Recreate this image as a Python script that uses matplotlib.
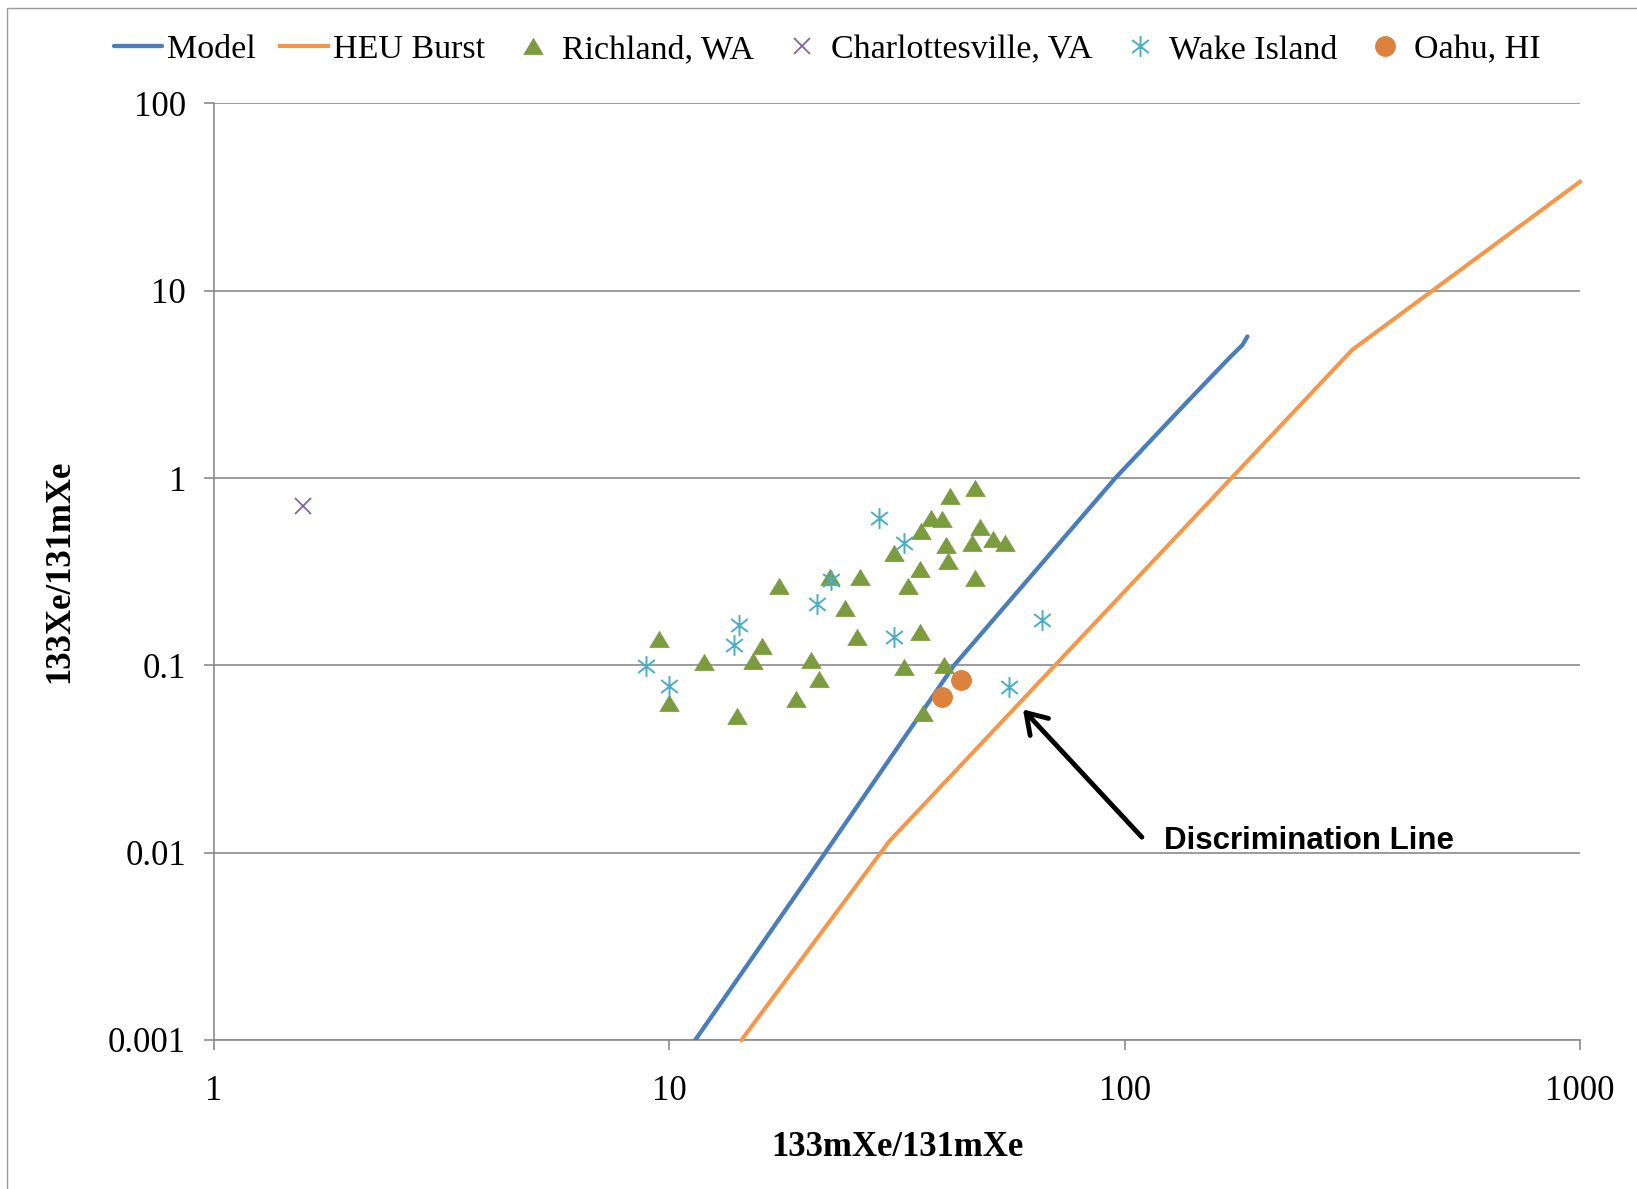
import matplotlib
matplotlib.use("Agg")
import matplotlib.pyplot as plt
from matplotlib.path import Path
from matplotlib.patches import Rectangle

# ---------------- data ----------------
model_x = [11.4, 22.0, 42.2, 95.4, 136.3, 170.7, 181.4, 186.0]
model_y = [0.001, 0.01, 0.1, 1.0, 2.51, 4.44, 5.13, 5.70]

heu_x = [14.4, 30.4, 315.8, 1000.0]
heu_y = [0.001, 0.0115, 4.83, 38.2]

richland_x = [47.0, 41.4, 37.6, 39.7, 35.7, 48.0, 31.2, 40.6, 46.2, 51.4, 54.7,
              41.0, 35.6, 47.0, 33.4, 22.5, 26.2, 17.4, 24.3, 25.8, 35.6, 9.5,
              16.0, 11.9, 15.3, 20.5, 32.7, 40.2, 21.3, 19.0, 10.0, 14.1, 36.1]
richland_y = [0.881, 0.802, 0.609, 0.602, 0.523, 0.549, 0.399, 0.439, 0.452, 0.471, 0.448,
              0.360, 0.327, 0.294, 0.265, 0.297, 0.295, 0.265, 0.203, 0.142, 0.151, 0.138,
              0.127, 0.104, 0.105, 0.107, 0.0984, 0.1005, 0.0842, 0.0658, 0.0627, 0.0538, 0.0558]

charl_x = [1.57]
charl_y = [0.706]

wake_x = [28.8, 32.8, 22.7, 21.1, 14.2, 13.9, 31.2, 8.89, 10.0, 55.8, 65.9]
wake_y = [0.609, 0.448, 0.285, 0.212, 0.164, 0.128, 0.141, 0.0992, 0.0778, 0.0769, 0.1745]

oahu_x = [43.8, 39.8]
oahu_y = [0.0835, 0.0675]

x_ticks = [1, 10, 100, 1000]
x_tick_labels = ["1", "10", "100", "1000"]
y_ticks = [0.001, 0.01, 0.1, 1, 10, 100]
y_tick_labels = ["0.001", "0.01", "0.1", "1", "10", "100"]

series_labels = ["Model", "HEU Burst", "Richland, WA", "Charlottesville, VA",
                 "Wake Island", "Oahu, HI"]
x_label = "133mXe/131mXe"
y_label = "133Xe/131mXe"
annot_text = "Discrimination Line"
arrow_head = (59.8, 0.0582)
arrow_tail = (109.1, 0.0121)
annot_pos = (121.8, 0.01045)

# ---------------- style ----------------
SERIF = ["Liberation Serif", "DejaVu Serif"]
SANS = ["Liberation Sans", "DejaVu Sans"]
GRAY = "#8a8a8a"
C_MODEL = "#4A7EBB"
C_HEU = "#F79646"
C_RICH = "#7A9C3E"
C_CHARL = "#8064A2"
C_WAKE = "#4BACC6"
C_OAHU = "#DC823C"

tri_marker = Path([(0, 0.83), (-1, -0.83), (1, -0.83), (0, 0.83)],
                  [Path.MOVETO, Path.LINETO, Path.LINETO, Path.CLOSEPOLY])
star_marker = Path([(0, -1), (0, 1), (-0.8, -0.62), (0.8, 0.62), (-0.8, 0.62), (0.8, -0.62)],
                   [Path.MOVETO, Path.LINETO, Path.MOVETO, Path.LINETO, Path.MOVETO, Path.LINETO])

W, H = 1637, 1189
fig = plt.figure(figsize=(W / 100, H / 100), dpi=100)
fig.patch.set_facecolor("white")

# outer chart frame (left and top edges visible)
fig.add_artist(Rectangle((7 / W, -0.05), 1.2, 1 - 8 / H + 0.05, transform=fig.transFigure,
                         fill=False, edgecolor="#9a9a9a", linewidth=1.0))

ax_left, ax_right = 214, 1580
ax_top, ax_bottom = 103.4, 1040
ax = fig.add_axes([ax_left / W, 1 - ax_bottom / H, (ax_right - ax_left) / W,
                   (ax_bottom - ax_top) / H])
ax.set_xscale("log")
ax.set_yscale("log")
ax.set_xlim(1, 1000)
ax.set_ylim(0.001, 100)

ax.grid(True, axis="y", which="major", color=GRAY, linewidth=1.2)
ax.set_axisbelow(True)

ax.plot(model_x, model_y, color=C_MODEL, linewidth=3.1, solid_capstyle="round",
        solid_joinstyle="round", label=series_labels[0], zorder=3)
ax.plot(heu_x, heu_y, color=C_HEU, linewidth=2.9, solid_joinstyle="round",
        label=series_labels[1], zorder=3, clip_on=False)
ax.plot(richland_x, richland_y, linestyle="none", marker=tri_marker, markersize=14,
        color=C_RICH, markeredgecolor=C_RICH, markeredgewidth=0.5,
        label=series_labels[2], zorder=4)
ax.plot(charl_x, charl_y, linestyle="none", marker="x", markersize=12,
        markeredgewidth=1.3, color=C_CHARL, label=series_labels[3], zorder=4)
ax.plot(wake_x, wake_y, linestyle="none", marker=star_marker, markersize=15,
        markeredgewidth=1.4, color=C_WAKE, markerfacecolor="none",
        label=series_labels[4], zorder=4)
ax.plot(oahu_x, oahu_y, linestyle="none", marker="o", markersize=14,
        color=C_OAHU, markeredgecolor=C_OAHU, label=series_labels[5], zorder=5)

# axes styling
for s in ["top", "right"]:
    ax.spines[s].set_visible(False)
for s in ["left", "bottom"]:
    ax.spines[s].set_color(GRAY)
    ax.spines[s].set_linewidth(1.2)
ax.set_xticks(x_ticks, x_tick_labels)
ax.set_yticks(y_ticks, y_tick_labels)
ax.minorticks_off()
ax.tick_params(axis="both", which="major", direction="out", length=7, width=1.2,
               color=GRAY, labelsize=25, labelcolor="black")
ax.tick_params(axis="x", pad=18)
ax.tick_params(axis="y", pad=13)
for lab in ax.get_xticklabels() + ax.get_yticklabels():
    lab.set_family(SERIF)

ax.set_xlabel(x_label, fontsize=25, fontweight="bold", family=SERIF)
ax.set_ylabel(y_label, fontsize=25, fontweight="bold", family=SERIF)
ax.xaxis.label.set_va("center")
ax.yaxis.label.set_va("center")
ax.xaxis.set_label_coords(0.5, (ax_bottom - 1147) / (ax_bottom - ax_top))
ax.yaxis.set_label_coords((60 - ax_left) / (ax_right - ax_left), 0.5)

# annotation
ax.annotate("", xy=arrow_head, xytext=arrow_tail,
            arrowprops=dict(arrowstyle="->,head_length=0.7,head_width=0.45",
                            color="black", linewidth=3.5, mutation_scale=20,
                            shrinkA=0, shrinkB=0), zorder=6)
ax.text(annot_pos[0], annot_pos[1], annot_text, fontsize=22.5, fontweight="bold",
        family=SANS, ha="left", va="baseline", color="black", zorder=6)

# legend
leg = fig.legend(loc="center", bbox_to_anchor=(827.5 / W, 1 - 50 / H), ncol=6,
                 frameon=False, prop={"family": SERIF, "size": 24.5},
                 handlelength=1.41, handletextpad=0.15, columnspacing=0.7,
                 borderpad=0, borderaxespad=0)

fig.savefig("out.png", dpi=100, facecolor="white")
